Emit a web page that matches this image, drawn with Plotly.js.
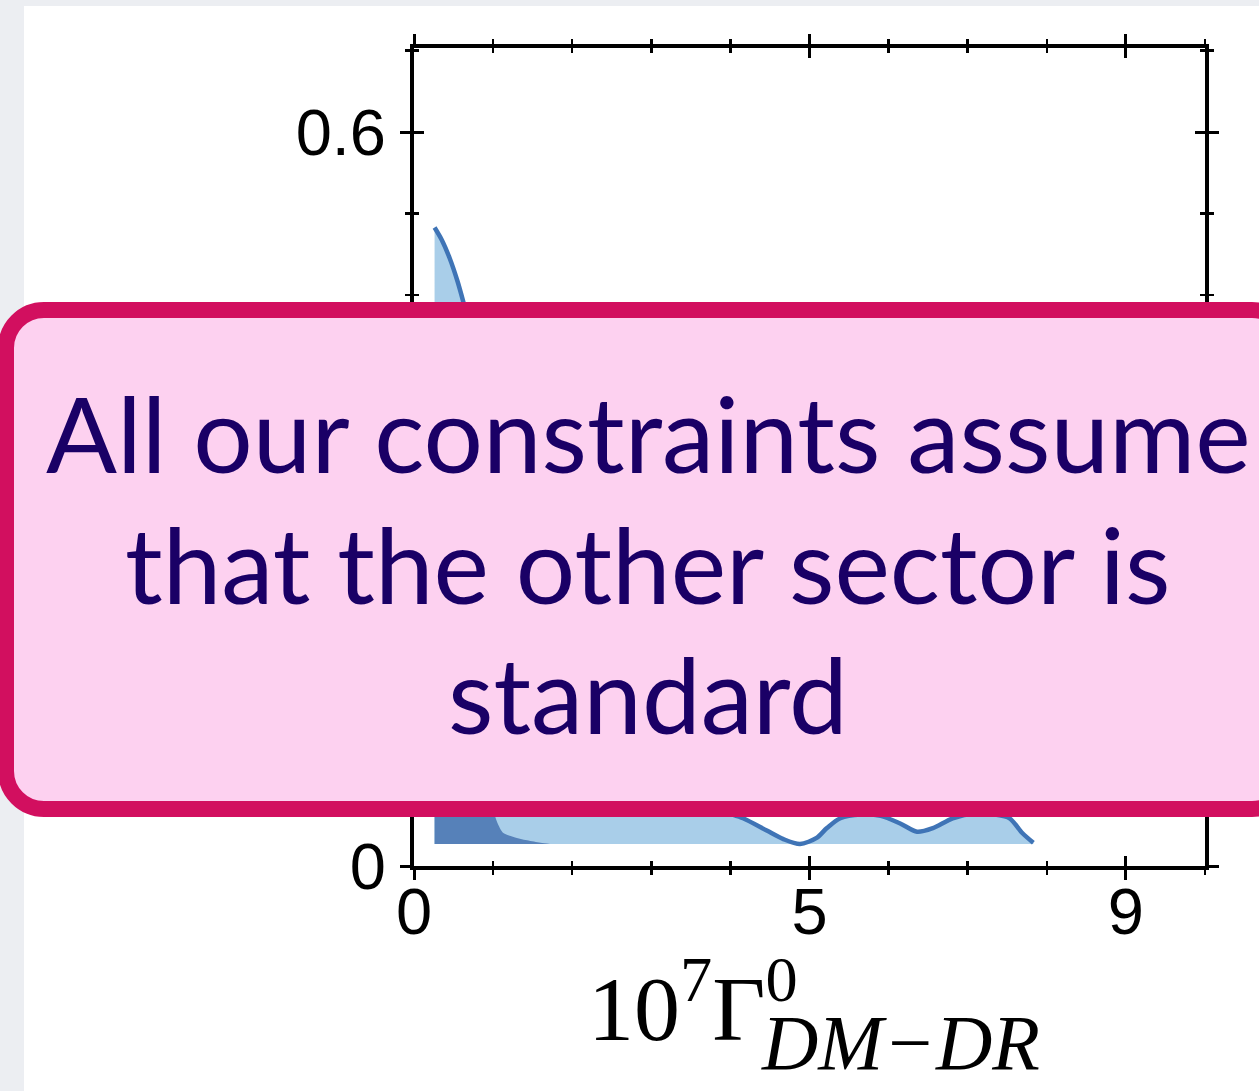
<!DOCTYPE html>
<html>
<head>
<meta charset="utf-8">
<script src="https://cdn.plot.ly/plotly-3.0.1.min.js"></script>
<style>
  html, body { margin: 0; padding: 0; background: #ffffff; }
  #chart { width: 1259px; height: 1091px; }
</style>
</head>
<body>
<div id="chart"></div>
<script>
// Marginalised posterior of 10^7 Gamma^0_{DM-DR}
const fillBase = 0.018;

const posteriorX = [0.26, 0.35, 0.45, 0.55, 0.65, 0.8, 1.0, 1.3, 1.6, 2.0, 2.4, 2.8, 3.2, 3.6, 3.9,
                    4.16, 4.46, 4.67, 4.88, 5.09, 5.22, 5.39, 5.65, 5.9, 6.14, 6.36, 6.56, 6.81,
                    7.1, 7.35, 7.53, 7.69, 7.83];
const posteriorY = [0.522, 0.512, 0.497, 0.478, 0.455, 0.42, 0.37, 0.31, 0.25, 0.19, 0.14, 0.10, 0.075, 0.055, 0.045,
                    0.039, 0.029, 0.022, 0.018, 0.023, 0.031, 0.039, 0.042, 0.041, 0.035, 0.028, 0.031, 0.039,
                    0.043, 0.042, 0.039, 0.027, 0.019];

// darker inner region near the lower bound
const innerX = [0.26, 0.5, 0.75, 0.95, 1.05, 1.13, 1.25, 1.43, 1.6, 1.72];
const innerY = [0.30, 0.22, 0.13, 0.06, 0.036, 0.027, 0.024, 0.021, 0.019, 0.018];

const xTickVals = [0, 5, 9];
const xTickText = ['0', '5', '9'];
const yTickVals = [0, 0.6];
const yTickText = ['0', '0.6'];

const calloutLines = ['All our constraints assume', 'that the other sector is', 'standard'];

// page geometry (pixels)
const W = 1259, H = 1091;
const M = {l: 414, r: 54, t: 48, b: 225};
const PW = W - M.l - M.r, PH = H - M.t - M.b;
const px = x => (x - M.l) / PW;
const py = y => (H - M.b - y) / PH;

function roundRect(x0, y0, x1, y1, r) {
  const k = 0.5523 * r;
  const P = (x, y) => px(x).toFixed(5) + ',' + py(y).toFixed(5);
  return 'M' + P(x0 + r, y0) +
    ' L' + P(x1 - r, y0) +
    ' C' + P(x1 - r + k, y0) + ' ' + P(x1, y0 + r - k) + ' ' + P(x1, y0 + r) +
    ' L' + P(x1, y1 - r) +
    ' C' + P(x1, y1 - r + k) + ' ' + P(x1 - r + k, y1) + ' ' + P(x1 - r, y1) +
    ' L' + P(x0 + r, y1) +
    ' C' + P(x0 + r - k, y1) + ' ' + P(x0, y1 - r + k) + ' ' + P(x0, y1 - r) +
    ' L' + P(x0, y0 + r) +
    ' C' + P(x0, y0 + r - k) + ' ' + P(x0 + r - k, y0) + ' ' + P(x0 + r, y0) + ' Z';
}

const lightFill = '#a9cee9';
const darkFill = '#5681b9';
const lineColor = '#3f74b6';

const first = posteriorX[0], last = posteriorX[posteriorX.length - 1];
const innerLast = innerX[innerX.length - 1];

const traces = [
  {x: [first, last], y: [fillBase, fillBase], mode: 'lines', line: {width: 0}, hoverinfo: 'skip', showlegend: false},
  {x: posteriorX, y: posteriorY, mode: 'lines', fill: 'tonexty', fillcolor: lightFill,
   line: {width: 0, shape: 'spline', smoothing: 0.8}, hoverinfo: 'skip', showlegend: false},
  {x: [first, innerLast], y: [fillBase, fillBase], mode: 'lines', line: {width: 0}, hoverinfo: 'skip', showlegend: false},
  {x: innerX, y: innerY, mode: 'lines', fill: 'tonexty', fillcolor: darkFill,
   line: {width: 0, shape: 'spline', smoothing: 0.8}, hoverinfo: 'skip', showlegend: false},
  {x: posteriorX, y: posteriorY, mode: 'lines',
   line: {color: lineColor, width: 4.5, shape: 'spline', smoothing: 0.8}, hoverinfo: 'skip', showlegend: false},
  {x: [], y: [], xaxis: 'x2', yaxis: 'y2', mode: 'lines', hoverinfo: 'skip', showlegend: false}
];

const xRange = [0, 10];
const yRange = [0, 0.6687];
const tickFont = {family: 'Liberation Sans, Arial, sans-serif', size: 65, color: '#000000'};

const baseX = {
  range: xRange, showgrid: false, zeroline: false, showline: true, linecolor: '#000', linewidth: 4,
  tickmode: 'array', tickvals: xTickVals, ticktext: xTickText,
  ticklen: 10, tickwidth: 3, tickcolor: '#000',
  minor: {dtick: 1, tick0: 0, ticklen: 5, tickwidth: 2.5, tickcolor: '#000', showgrid: false},
  fixedrange: true
};
const baseY = {
  range: yRange, showgrid: false, zeroline: false, showline: true, linecolor: '#000', linewidth: 4,
  tickmode: 'array', tickvals: yTickVals, ticktext: yTickText,
  ticklen: 10, tickwidth: 3, tickcolor: '#000',
  minor: {dtick: 0.6 / 9, tick0: 0, ticklen: 5, tickwidth: 2.5, tickcolor: '#000', showgrid: false},
  fixedrange: true
};

const calloutFont = {family: 'Lato, Open Sans, sans-serif', size: 105, color: '#1a0066'};
const calloutBaselines = [469, 600, 730];

const layout = {
  width: W, height: H,
  margin: M,
  paper_bgcolor: '#ffffff',
  plot_bgcolor: '#ffffff',
  showlegend: false,
  xaxis: Object.assign({}, baseX, {
    ticks: 'outside', mirror: 'allticks', tickfont: tickFont, ticklabelstandoff: -24,
    minor: Object.assign({}, baseX.minor, {ticks: 'outside'})
  }),
  yaxis: Object.assign({}, baseY, {
    ticks: 'outside', mirror: 'allticks', tickfont: tickFont, ticklabelstandoff: 1,
    minor: Object.assign({}, baseY.minor, {ticks: 'outside'})
  }),
  xaxis2: Object.assign({}, baseX, {
    overlaying: 'x', anchor: 'y2', ticks: 'inside', mirror: 'allticks', showticklabels: false,
    minor: Object.assign({}, baseX.minor, {ticks: 'inside'})
  }),
  yaxis2: Object.assign({}, baseY, {
    overlaying: 'y', anchor: 'x2', ticks: 'inside', mirror: 'allticks', showticklabels: false,
    minor: Object.assign({}, baseY.minor, {ticks: 'inside'})
  }),
  shapes: [
    // slide background strips
    {type: 'rect', xref: 'paper', yref: 'paper', x0: px(0), x1: px(24), y0: py(0), y1: py(H),
     fillcolor: '#eceef2', line: {width: 0}, layer: 'below'},
    {type: 'rect', xref: 'paper', yref: 'paper', x0: px(0), x1: px(W), y0: py(0), y1: py(6),
     fillcolor: '#eceef2', line: {width: 0}, layer: 'below'},
    // callout box
    {type: 'path', xref: 'paper', yref: 'paper', path: roundRect(6, 310, 1290, 809, 38),
     fillcolor: '#fdd1f0', line: {color: '#d20f5f', width: 16}, layer: 'above'}
  ],
  annotations: calloutLines.map((line, i) => ({
    xref: 'paper', yref: 'paper', x: px(648), y: py(calloutBaselines[i] + 0.27 * calloutFont.size),
    xanchor: 'center', yanchor: 'bottom', text: line, showarrow: false, font: calloutFont
  })).concat([
    {xref: 'paper', yref: 'paper', x: px(586), y: py(1062), xanchor: 'left', yanchor: 'bottom',
     text: '10<sup>7</sup>Γ<sup>0</sup>', showarrow: false,
     font: {family: 'Liberation Serif, DejaVu Serif, serif', size: 92, color: '#000'}},
    {xref: 'paper', yref: 'paper', x: px(759), y: py(1088), xanchor: 'left', yanchor: 'bottom',
     text: '<i>DM−DR</i>', showarrow: false,
     font: {family: 'Liberation Serif, DejaVu Serif, serif', size: 78, color: '#000'}}
  ])
};

Plotly.newPlot('chart', traces, layout, {displayModeBar: false, staticPlot: true});
</script>
</body>
</html>
